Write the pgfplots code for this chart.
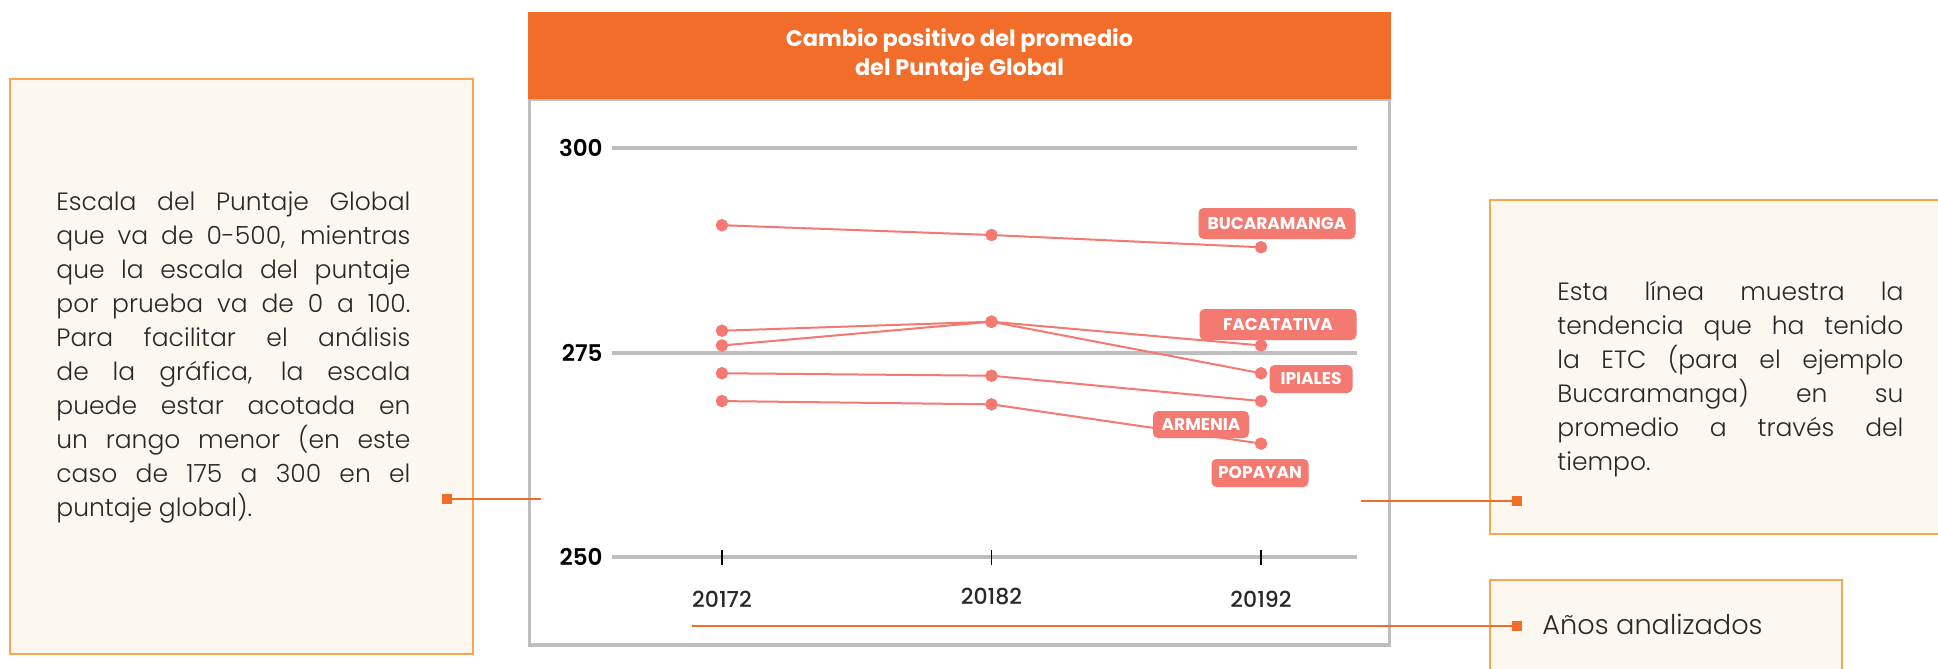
\documentclass[border=0pt]{standalone}
\usepackage{fontspec}
\setmainfont{Poppins}
\IfFontExistsTF{Poppins Light}{\newfontfamily\lightfont{Poppins Light}}{\newfontfamily\lightfont{Poppins}}
\IfFontExistsTF{Poppins Medium}{\newfontfamily\medfont{Poppins Medium}}{\newfontfamily\medfont{Poppins}}
\IfFontExistsTF{Poppins SemiBold}{\newfontfamily\semifont{Poppins SemiBold}}{\newfontfamily\semifont{Poppins Bold}}
\usepackage{pgfplots}
\pgfplotsset{compat=1.18}
\definecolor{hdr}{RGB}{242,108,42}
\definecolor{sal}{RGB}{244,121,112}
\definecolor{gridg}{RGB}{190,190,190}
\definecolor{cream}{RGB}{252,248,240}
\definecolor{boxo}{RGB}{248,166,80}
\definecolor{txt}{RGB}{40,40,40}
\newcommand\jl[1]{\hbox to \linewidth{\spaceskip=0.25em plus 1fil minus 0.25em\relax #1}}
\begin{document}
\begin{tikzpicture}
\begin{scope}[x=0.5pt,y=-0.5pt]
\path[use as bounding box, fill=white] (0,0) rectangle (1938,669);
% annotation boxes
\draw[boxo, fill=cream, line width=0.75pt] (10,79) rectangle (473,654);
\draw[boxo, fill=cream, line width=0.75pt] (1490,200) rectangle (1950,534);
\draw[boxo, fill=cream, line width=0.75pt] (1490,580) rectangle (1842,690);
% frame and header
\draw[gridg, line width=1.75pt] (529.5,99) rectangle (1389.5,645);
\fill[hdr] (528,12) rectangle (1391,99);
\node[anchor=base, text=white, inner sep=0] at (959.5,46.5) {\bfseries\fontsize{11.2}{13}\selectfont Cambio positivo del promedio};
\node[anchor=base, text=white, inner sep=0] at (959.5,75.5) {\bfseries\fontsize{11.2}{13}\selectfont del Puntaje Global};
% texts
\node[anchor=base west, inner sep=0, text=txt] at (56,210) {\lightfont\fontsize{12.5}{17}\selectfont\parbox[t]{177pt}{%
\jl{Escala del Puntaje Global}
\jl{que va de 0-500, mientras}
\jl{que la escala del puntaje}
\jl{por prueba va de 0 a 100.}
\jl{Para facilitar el análisis}
\jl{de la gráfica, la escala}
\jl{puede estar acotada en}
\jl{un rango menor (en este}
\jl{caso de 175 a 300 en el}
\hbox{puntaje global).}}};
\node[anchor=base west, inner sep=0, text=txt] at (1557,300.5) {\lightfont\fontsize{12.5}{17}\selectfont\parbox[t]{173pt}{%
\jl{Esta línea muestra la}
\jl{tendencia que ha tenido}
\jl{la ETC (para el ejemplo}
\jl{Bucaramanga) en su}
\jl{promedio a través del}
\hbox{tiempo.}}};
\node[anchor=base west, inner sep=0, text=txt] at (1542,634) {\lightfont\fontsize{13.6}{17}\selectfont Años analizados};
\end{scope}
\begin{axis}[
  at={(306pt,-278.65pt)}, anchor=south west,
  scale only axis, width=372.5pt, height=204.5pt,
  xmin=-0.408, xmax=2.356, ymin=250, ymax=300,
  axis line style={draw=none},
  xtick={0,1,2}, xticklabels={20172,\raisebox{1.5pt}{20182},20192},
  ytick={250,275,300},
  ymajorgrids, major grid style={gridg, line width=2pt},
  tick align=center, major tick length=7.5pt,
  xtick pos=bottom,
  xtick style={black, line width=0.6pt},
  ytick style={draw=none},
  xticklabel style={font=\medfont\fontsize{11}{13}\selectfont, text=txt, anchor=base, inner sep=0pt, yshift=-21.2pt},
  yticklabel style={font=\semifont\fontsize{11.5}{13}\selectfont, text=black, anchor=east, inner sep=0pt, xshift=-0.8pt},
  /pgf/number format/assume math mode=true,
  clip=false,
]
\addplot[sal, line width=1pt, mark=*, mark size=2.6pt, mark options={fill=sal, draw=sal}] coordinates {(0,290.6) (1,289.4) (2,287.9)};
\addplot[sal, line width=1pt, mark=*, mark size=2.6pt, mark options={fill=sal, draw=sal}] coordinates {(0,277.7) (1,278.8) (2,275.9)};
\addplot[sal, line width=1pt, mark=*, mark size=2.6pt, mark options={fill=sal, draw=sal}] coordinates {(0,275.9) (1,278.8) (2,272.5)};
\addplot[sal, line width=1pt, mark=*, mark size=2.6pt, mark options={fill=sal, draw=sal}] coordinates {(0,272.5) (1,272.2) (2,269.1)};
\addplot[sal, line width=1pt, mark=*, mark size=2.6pt, mark options={fill=sal, draw=sal}] coordinates {(0,269.1) (1,268.7) (2,263.9)};
\end{axis}
\begin{scope}[x=0.5pt,y=-0.5pt]
\tikzset{tag/.style={fill=sal, rounded corners=2.5pt, text=white, inner sep=0pt, font=\bfseries\fontsize{8.5}{10}\selectfont}}
\node[tag, minimum width=78.5pt, minimum height=15.5pt] at (1277,223.5) {BUCARAMANGA};
\node[tag, minimum width=78.5pt, minimum height=15.5pt] at (1278,324.5) {FACATATIVA};
\node[tag, minimum width=41.5pt, minimum height=14pt] at (1311,379) {IPIALES};
\node[tag, minimum width=48pt, minimum height=13.5pt] at (1201,424.5) {ARMENIA};
\node[tag, minimum width=48.5pt, minimum height=14pt] at (1260,473) {POPAYAN};
% connectors
\draw[hdr, line width=1pt] (447,499) -- (541,499);
\fill[hdr] (442,494) rectangle (452,504);
\draw[hdr, line width=1pt] (1361,501) -- (1517,501);
\fill[hdr] (1512,496) rectangle (1522,506);
\draw[hdr, line width=1pt] (692,626) -- (1517,626);
\fill[hdr] (1512,621) rectangle (1522,631);
\end{scope}
\end{tikzpicture}
\end{document}
